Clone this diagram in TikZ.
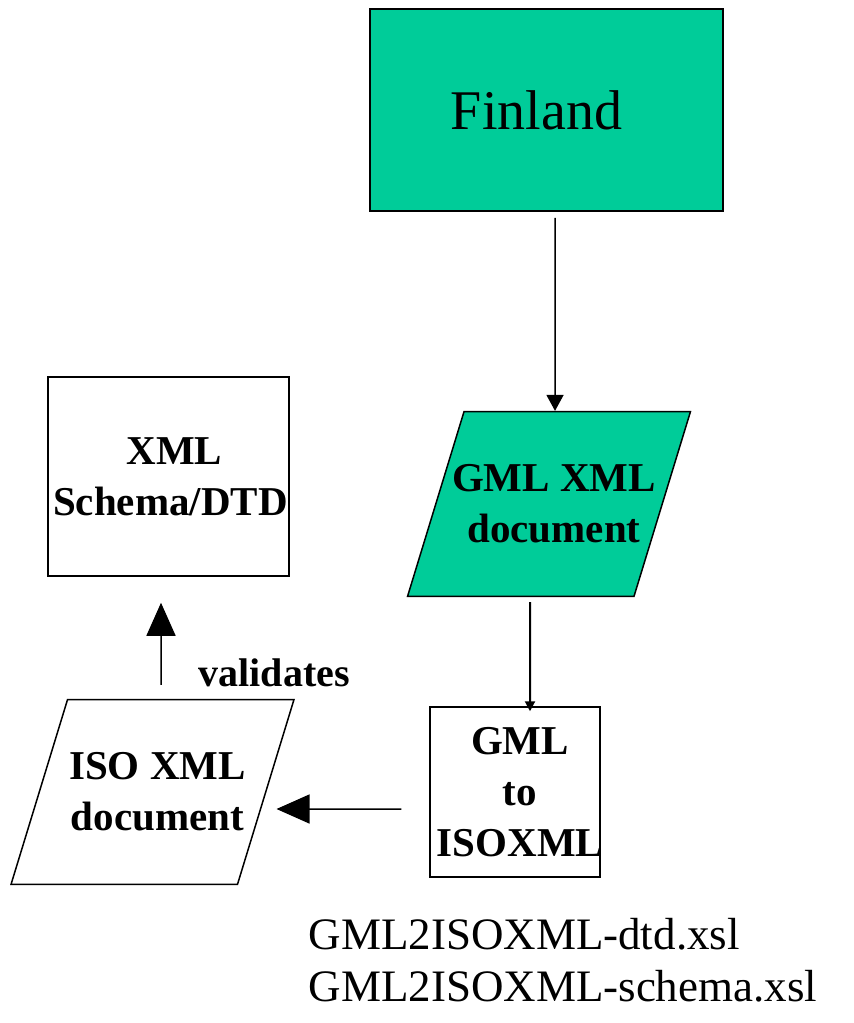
\documentclass[tikz,border=0pt]{standalone}
\usepackage{fontspec}
\setmainfont{Liberation Serif}
\usetikzlibrary{arrows.meta,shapes.geometric}
\definecolor{seagreen}{RGB}{0,204,153}

\begin{document}
\begin{tikzpicture}[x=1pt,y=-1pt,
  box/.style={draw,line width=1.5pt,inner sep=0pt,align=center},
  docbox/.style={box,trapezium,trapezium left angle=73,trapezium right angle=107,
    inner xsep=0pt,inner ysep=53pt},
  boldtext/.style={font=\fontsize{41}{51}\selectfont\bfseries},
  thinarrow/.style={-{Triangle[length=16pt,width=17pt]},line width=1.5pt},
  tinyarrow/.style={-{Triangle[length=10pt,width=10pt]},line width=2pt},
  bigarrow/.style={-{Triangle[length=33pt,width=29pt]},line width=1.5pt}]
  \useasboundingbox (0,0) rectangle (854,1023);

  \node[box,fill=seagreen,minimum width=353pt,minimum height=202pt,
    font=\fontsize{56}{60}\selectfont] (finland) at (546.5,110) {Finland\hspace*{20pt}};

  \node[docbox,fill=seagreen,boldtext] (gmldoc) at (549,504)
    {\makebox[170pt]{\hspace*{10pt}GML XML}\\\makebox[170pt]{\hspace*{10pt}document}};
  \draw[thinarrow] ([xshift=8.5pt,yshift=-6pt]finland.south) -- ([xshift=6pt]gmldoc.north);

  \node[box,boldtext,minimum width=170pt,minimum height=170pt] (conv) at (515,792)
    {\hspace*{10pt}GML\\\hspace*{10pt}to\\\makebox[160pt]{\hspace*{10pt}ISOXML}};
  \draw[tinyarrow] ([xshift=-19pt,yshift=-5pt]gmldoc.south) -- ([xshift=15pt,yshift=-5pt]conv.north);

  \node[docbox,boldtext] (isodoc) at (152.5,792)
    {\makebox[170pt]{\hspace*{10pt}ISO XML}\\\makebox[170pt]{\hspace*{10pt}document}};
  \draw[bigarrow] ([xshift=-28pt,yshift=-17pt]conv.west) -- ([xshift=10pt,yshift=-17pt]isodoc.east);

  \node[box,boldtext,minimum width=241pt,minimum height=199pt] (schema) at (168.5,476.5)
    {\hspace*{12pt}XML\\\hspace*{4pt}Schema/DTD};
  \draw[bigarrow] ([xshift=8.5pt,yshift=14pt]isodoc.north) -- ([xshift=-7.5pt,yshift=-26pt]schema.south);
  \node[anchor=base west,font=\fontsize{40}{48}\selectfont\bfseries] (valid) at (195,686) {validates};

  \node[anchor=base west,align=left,font=\fontsize{45}{52}\selectfont] (files) at (305,1001)
    {GML2ISOXML-dtd.xsl\\GML2ISOXML-schema.xsl};
\end{tikzpicture}
\end{document}
